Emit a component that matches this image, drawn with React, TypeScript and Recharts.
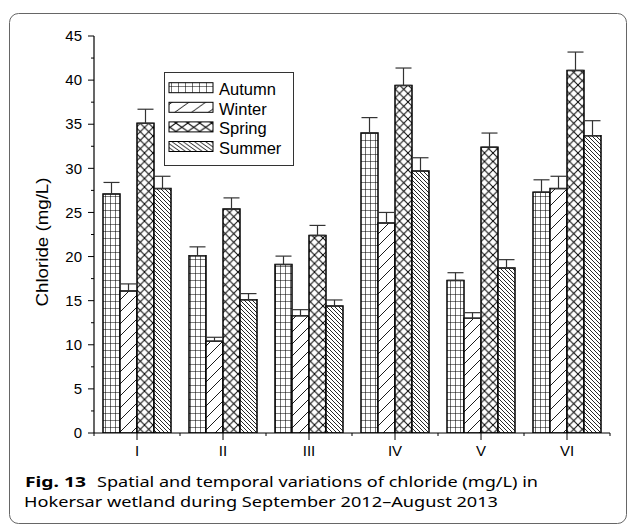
import React from "react";
import { BarChart, Bar, XAxis, YAxis, ErrorBar, Legend } from "recharts";

const sites = ["I", "II", "III", "IV", "V", "VI"];
const autumn = [27.1, 20.1, 19.1, 34.0, 17.3, 27.3];
const autumnErr = [1.3, 1.0, 0.95, 1.75, 0.87, 1.4];
const winter = [16.1, 10.4, 13.3, 23.8, 13.0, 27.7];
const winterErr = [0.8, 0.45, 0.68, 1.2, 0.64, 1.4];
const spring = [35.1, 25.4, 22.4, 39.4, 32.4, 41.1];
const springErr = [1.6, 1.25, 1.13, 1.97, 1.6, 2.08];
const summer = [27.7, 15.1, 14.4, 29.7, 18.7, 33.7];
const summerErr = [1.4, 0.7, 0.68, 1.5, 0.95, 1.7];
const yTicks = [0, 2.5, 5, 7.5, 10, 12.5, 15, 17.5, 20, 22.5, 25, 27.5, 30, 32.5, 35, 37.5, 40, 42.5, 45];
const seasons = ["Autumn", "Winter", "Spring", "Summer"];

const data = sites.map((s, i) => ({
  site: s,
  Autumn: autumn[i],
  AutumnErr: [0, autumnErr[i]],
  Winter: winter[i],
  WinterErr: [0, winterErr[i]],
  Spring: spring[i],
  SpringErr: [0, springErr[i]],
  Summer: summer[i],
  SummerErr: [0, summerErr[i]],
}));

const W = 629;
const H = 527;
const M = { top: 36, right: 19, bottom: 64, left: 0 };
const Y_W = 94;
const X_H = 30;
const FONT = "'Liberation Sans', Arial, sans-serif";
const CAP = "'Noto Sans', sans-serif";
const band = (W - M.left - M.right - Y_W) / sites.length;

const YTick = (props: any) => {
  const { x, y, payload } = props;
  const major = Math.abs(payload.value % 5) < 1e-6;
  return (
    <g>
      <line x1={x} x2={x - (major ? 6 : 3)} y1={y} y2={y} stroke="#000" strokeWidth={1} />
      {major && (
        <text x={x - 12} y={y} dy="0.35em" textAnchor="end" fontSize={15} fontFamily={FONT} fill="#000">
          {payload.value}
        </text>
      )}
    </g>
  );
};

const XTick = (props: any) => {
  const { x, y, payload, index } = props;
  const b = band;
  return (
    <g>
      <line x1={x} x2={x} y1={y} y2={y + 7} stroke="#000" strokeWidth={1} />
      <line x1={x - b / 2} x2={x - b / 2} y1={y} y2={y + 3} stroke="#000" strokeWidth={1} />
      {index === sites.length - 1 && (
        <line x1={x + b / 2} x2={x + b / 2} y1={y} y2={y + 3} stroke="#000" strokeWidth={1} />
      )}
      <text x={x} y={y + 12} dy="0.71em" textAnchor="middle" fontSize={15} fontFamily={FONT} fill="#000">
        {payload.value}
      </text>
    </g>
  );
};

const Patterns = ({ prefix, scale }: { prefix: string; scale: number }) => {
  const g = (a: number) => a * scale;
  return (
    <defs>
      <pattern id={`${prefix}autumn`} patternUnits="userSpaceOnUse" width={g(5)} height={7}>
        <rect width={g(5)} height={7} fill="#fff" />
        <path d={`M0,0 L${g(5)},0 M0,0 L0,7`} stroke="#000" strokeWidth={1.1} />
      </pattern>
      <pattern id={`${prefix}winter`} patternUnits="userSpaceOnUse" width={g(12)} height={12}>
        <rect width={g(12)} height={12} fill="#fff" />
        <path d={`M0,12 L${g(12)},0 M${-g(3)},3 L${g(3)},-3 M${g(9)},15 L${g(15)},9`} stroke="#000" strokeWidth={0.9} />
      </pattern>
      <pattern id={`${prefix}spring`} patternUnits="userSpaceOnUse" width={g(8.5)} height={8.5}>
        <rect width={g(8.5)} height={8.5} fill="#fff" />
        <path d={`M0,0 L${g(8.5)},8.5 M${g(8.5)},0 L0,8.5`} stroke="#000" strokeWidth={1} />
      </pattern>
      <pattern id={`${prefix}summer`} patternUnits="userSpaceOnUse" width={g(4)} height={4}>
        <rect width={g(4)} height={4} fill="#fff" />
        <path d={`M0,0 L${g(4)},4 M${-g(1)},3 L${g(1)},5 M${g(3)},-1 L${g(5)},1`} stroke="#000" strokeWidth={0.85} />
      </pattern>
    </defs>
  );
};

const LegendBox = () => (
  <svg width={130} height={94} style={{ display: "block" }}>
    <Patterns prefix="lg-" scale={1.4} />
    <rect x={0.5} y={0.5} width={129} height={93} fill="#fff" stroke="#333" strokeWidth={1} />
    {seasons.map((s, i) => {
      const top = 10.7 + i * 19.6;
      return (
        <g key={s}>
          <rect x={5} y={top} width={44} height={10} fill={`url(#lg-${s.toLowerCase()})`} stroke="#000" strokeWidth={1} />
          <text x={55} y={top + 12.5} fontSize={16.5} fontFamily={FONT} fill="#000">
            {s}
          </text>
        </g>
      );
    })}
  </svg>
);

export default function App() {
  return (
    <div style={{ position: "absolute", left: 0, top: 0, width: W, height: H, background: "#fff" }}>
      <svg width={W} height={H} style={{ position: "absolute", left: 0, top: 0 }}>
        <rect x={9.5} y={13.5} width={617} height={510} rx={9} fill="none" stroke="#666" strokeWidth={1} />
        <text
          transform="translate(48,242) rotate(-90)"
          textAnchor="middle"
          fontSize={17}
          fontFamily={FONT}
          fill="#000"
          textLength={129}
          lengthAdjust="spacingAndGlyphs"
        >
          Chloride (mg/L)
        </text>
        <text x={25} y={487} fontSize={14.5} fontWeight="bold" fontFamily={CAP} fill="#000" textLength={61} lengthAdjust="spacingAndGlyphs">
          Fig. 13
        </text>
        <text x={97} y={487} fontSize={14.5} fontFamily={CAP} fill="#000" textLength={441} lengthAdjust="spacingAndGlyphs">
          Spatial and temporal variations of chloride (mg/L) in
        </text>
        <text x={24} y={507} fontSize={14.5} fontFamily={CAP} fill="#000" textLength={474} lengthAdjust="spacingAndGlyphs">
          Hokersar wetland during September 2012–August 2013
        </text>
      </svg>
      <div style={{ position: "absolute", left: 0, top: 0 }}>
        <BarChart width={W} height={H} data={data} margin={M} barGap={0} barCategoryGap={9}>
          <Patterns prefix="" scale={1} />
          <XAxis
            dataKey="site"
            height={X_H}
            tickLine={false}
            tickSize={0}
            tickMargin={0}
            tick={<XTick />}
            axisLine={{ stroke: "#000", strokeWidth: 1.2 }}
            interval={0}
          />
          <YAxis
            width={Y_W}
            domain={[0, 45]}
            ticks={yTicks}
            interval={0}
            tickLine={false}
            tickSize={0}
            tickMargin={0}
            tick={<YTick />}
            axisLine={{ stroke: "#000", strokeWidth: 1.2 }}
            allowDataOverflow
          />
          <Legend
            layout="vertical"
            align="center"
            verticalAlign="middle"
            content={() => <LegendBox />}
            wrapperStyle={{ position: "absolute", left: 164, top: 72, width: 130, height: 94 }}
          />
          {seasons.map((s) => (
            <Bar
              key={s}
              dataKey={s}
              fill={`url(#${s.toLowerCase()})`}
              stroke="#000"
              strokeWidth={1.5}
              isAnimationActive={false}
              legendType="none"
            >
              <ErrorBar dataKey={`${s}Err`} width={8} stroke="#333" strokeWidth={1.2} direction="y" />
            </Bar>
          ))}
        </BarChart>
      </div>
    </div>
  );
}
